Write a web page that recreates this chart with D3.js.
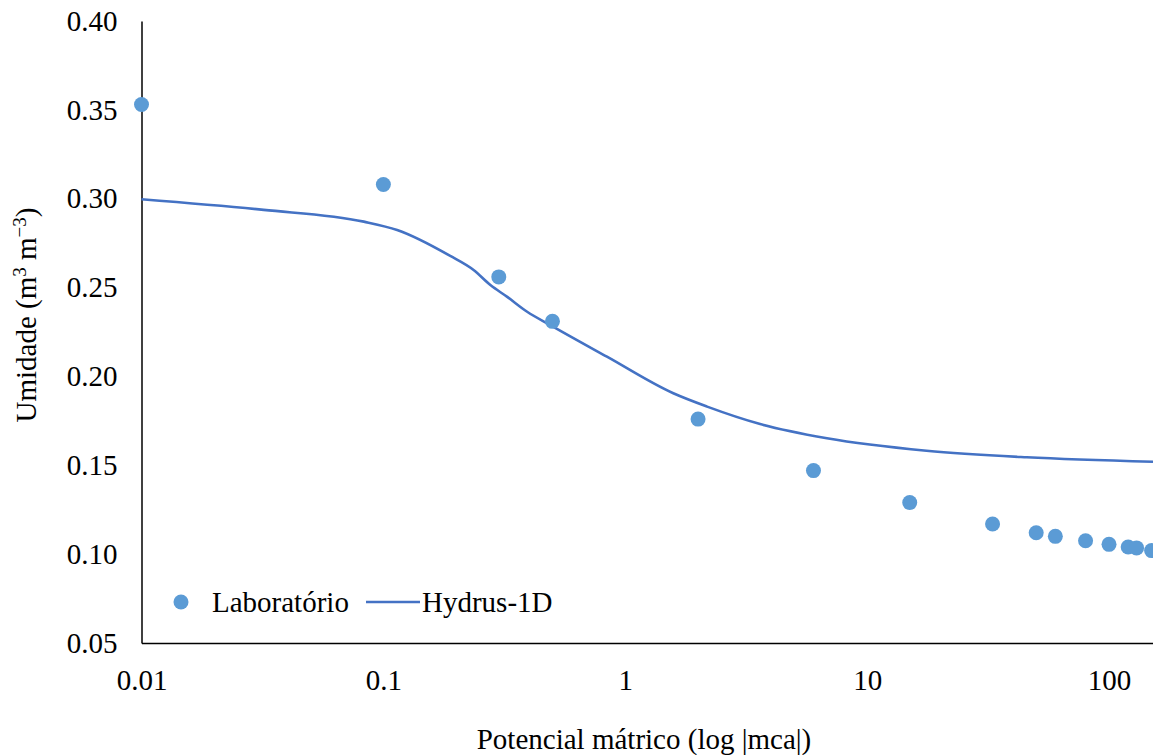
<!DOCTYPE html>
<html>
<head>
<meta charset="utf-8">
<script src="https://cdn.jsdelivr.net/npm/d3@7"></script>
<style>
  body { margin: 0; background: #fff; }
</style>
</head>
<body>
<svg id="chart" width="1153" height="755"></svg>
<script>
// laboratory points (|h| in mca, theta in m3/m3)
const labH     = [0.01, 0.1, 0.3, 0.5, 2, 6, 15, 33, 50, 60, 80, 100, 120, 130, 150]
const labTheta = [0.353, 0.308, 0.256, 0.231, 0.176, 0.147, 0.129, 0.117, 0.112, 0.110, 0.1075, 0.1055, 0.104, 0.1035, 0.102]

// Hydrus-1D fitted curve
const hydH     = [0.01, 0.032, 0.083, 0.114, 0.189, 0.236, 0.277, 0.324, 0.393, 0.49, 0.84, 1.58, 2.18, 3.61, 6.82, 17.6, 45.7, 152]
const hydTheta = [0.2997, 0.2937, 0.2871, 0.2824, 0.2678, 0.2599, 0.2514, 0.2449, 0.2364, 0.2289, 0.2111, 0.1905, 0.183, 0.1732, 0.1652, 0.1582, 0.1545, 0.152]

const xTicks = [0.01, 0.1, 1, 10, 100]
const xTickLabels = ["0.01", "0.1", "1", "10", "100"]
const yTicks = [0.05, 0.10, 0.15, 0.20, 0.25, 0.30, 0.35, 0.40]

const seriesNames = ["Laboratório", "Hydrus-1D"]

const dotColor = "#5B9BD5"
const lineColor = "#4472C4"
const serif = "'Liberation Serif', 'Times New Roman', Times, serif"

const svg = d3.select("#chart")
const margin = { left: 141.5, top: 21, right: 0, bottom: 112 }
const width = 1153, height = 755

const x = d3.scaleLog()
  .domain([0.01, 152])
  .range([margin.left, width - margin.right])

const y = d3.scaleLinear()
  .domain([0.05, 0.40])
  .range([height - margin.bottom, margin.top])

// x axis
const gx = svg.append("g")
  .attr("transform", `translate(0,${y(0.05)})`)
  .call(d3.axisBottom(x).tickValues(xTicks).tickSize(0).tickPadding(26)
    .tickFormat((d, i) => xTickLabels[i]))
gx.attr("font-family", serif).attr("font-size", 29)
gx.select(".domain").attr("stroke", "#000").attr("stroke-width", 1.5)

// y axis
const gy = svg.append("g")
  .attr("transform", `translate(${margin.left},0)`)
  .call(d3.axisLeft(y).tickValues(yTicks).tickSize(0).tickPadding(24).tickFormat(d3.format(".2f")))
gy.attr("font-family", serif).attr("font-size", 29)
gy.select(".domain").attr("stroke", "#000").attr("stroke-width", 1.5)

// hydrus curve
const lineData = hydH.map((h, i) => [h, hydTheta[i]])
svg.append("path")
  .datum(lineData)
  .attr("fill", "none")
  .attr("stroke", lineColor)
  .attr("stroke-width", 2.6)
  .attr("d", d3.line().x(d => x(d[0])).y(d => y(d[1])).curve(d3.curveMonotoneX))

// lab points
svg.selectAll("circle.lab")
  .data(labH.map((h, i) => [h, labTheta[i]]))
  .enter()
  .append("circle")
  .attr("class", "lab")
  .attr("cx", d => x(d[0]))
  .attr("cy", d => y(d[1]))
  .attr("r", 7.5)
  .attr("fill", dotColor)

// axis titles
svg.append("text")
  .attr("x", 644)
  .attr("y", 749)
  .attr("text-anchor", "middle")
  .attr("font-family", serif)
  .attr("font-size", 29)
  .text("Potencial mátrico (log |mca|)")

const yt = svg.append("text")
  .attr("transform", "translate(36,315) rotate(-90)")
  .attr("text-anchor", "middle")
  .attr("font-family", serif)
  .attr("font-size", 29)
yt.append("tspan").text("Umidade (m")
yt.append("tspan").attr("baseline-shift", "super").attr("font-size", 19).text("3")
yt.append("tspan").text(" m")
yt.append("tspan").attr("baseline-shift", "super").attr("font-size", 19).text("−3")
yt.append("tspan").text(")")

// legend
const leg = svg.append("g").attr("font-family", serif).attr("font-size", 29)
leg.append("circle").attr("cx", 181).attr("cy", 602).attr("r", 7.5).attr("fill", dotColor)
leg.append("text").attr("x", 212).attr("y", 612).text(seriesNames[0])
leg.append("line").attr("x1", 366).attr("x2", 420).attr("y1", 602).attr("y2", 602)
  .attr("stroke", lineColor).attr("stroke-width", 2.6)
leg.append("text").attr("x", 422).attr("y", 612).text(seriesNames[1])
</script>
</body>
</html>
